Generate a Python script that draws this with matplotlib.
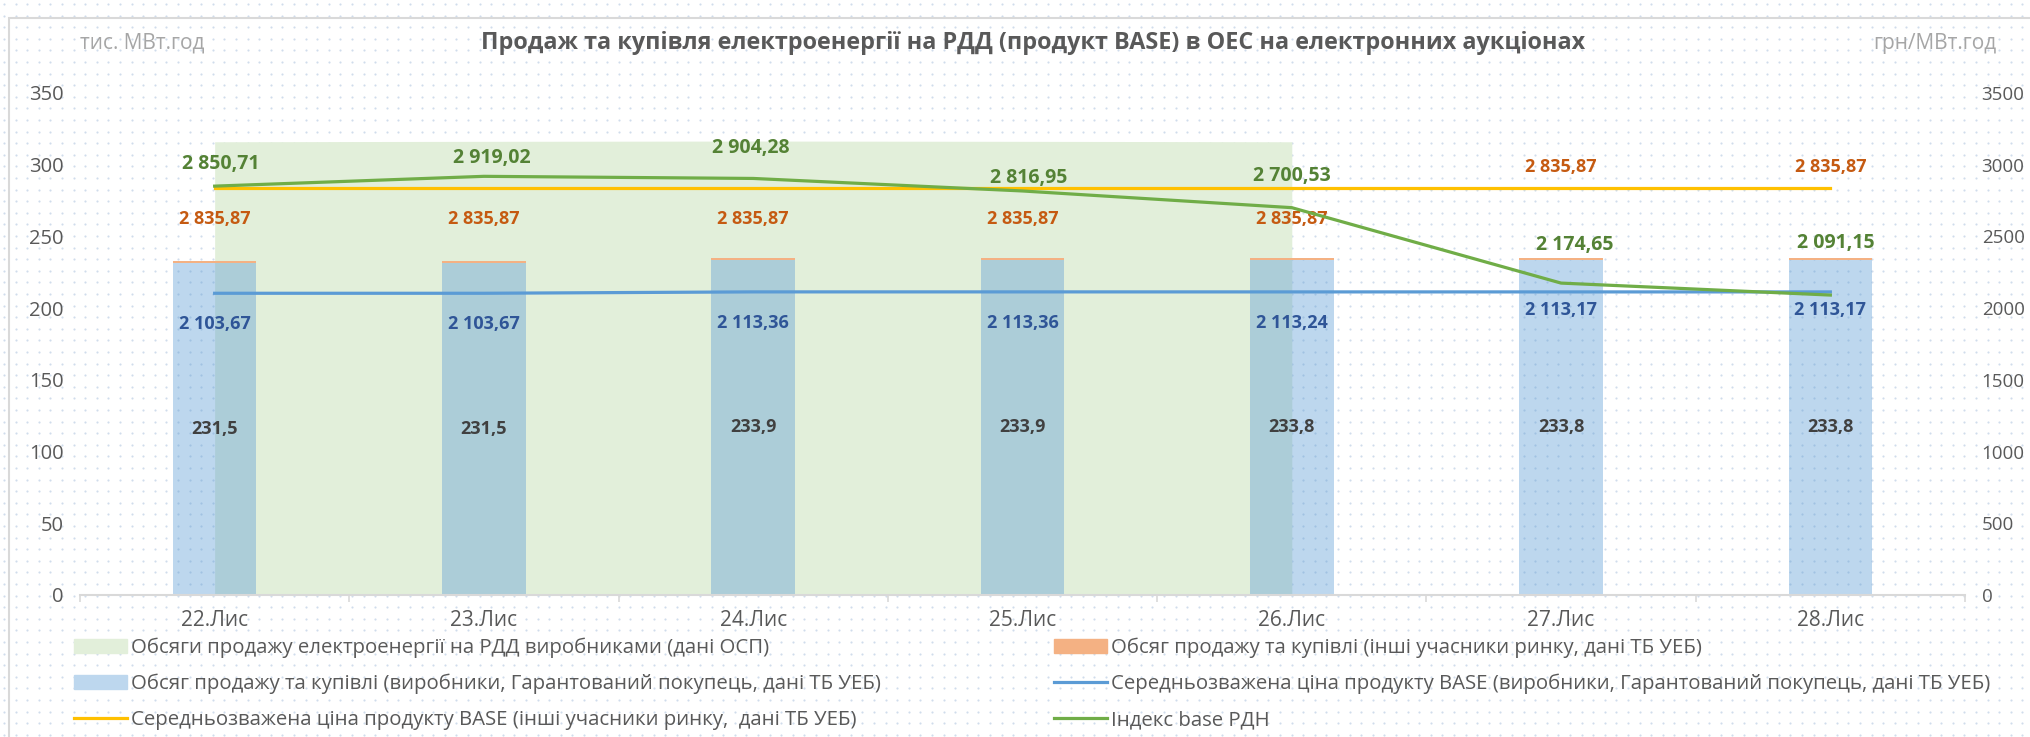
import numpy as np
import matplotlib
matplotlib.use('Agg')
import matplotlib.pyplot as plt
from matplotlib.patches import Patch, Rectangle
from matplotlib.lines import Line2D

W, H = 2031, 737
DPI = 100

days = ['22.Лис', '23.Лис', '24.Лис', '25.Лис', '26.Лис', '27.Лис', '28.Лис']

# тис. МВт.год (left axis)
osp_volume = [316.0, 316.3, 316.5, 316.3, 316.0, np.nan, np.nan]
producers_volume = [231.5, 231.5, 233.9, 233.9, 233.8, 233.8, 233.8]
others_volume = [1.4, 1.4, 1.4, 1.4, 1.4, 1.4, 1.4]

# грн/МВт.год (right axis)
producers_price = [2103.67, 2103.67, 2113.36, 2113.36, 2113.24, 2113.17, 2113.17]
others_price = [2835.87, 2835.87, 2835.87, 2835.87, 2835.87, 2835.87, 2835.87]
rdn_index = [2850.71, 2919.02, 2904.28, 2816.95, 2700.53, 2174.65, 2091.15]

# label offsets in pixels (layout only)
rdn_off = [(6, 22), (8, 18), (-2, 30), (6, 13), (0, 32), (14, 38), (5, 52)]
others_off = [(0, -31)] * 5 + [(0, 21)] * 2
prod_off = [(0, -31)] * 5 + [(0, -18)] * 2

GRAY = '#595959'
FONT = ['Open Sans', 'DejaVu Sans']
plt.rcParams['font.family'] = FONT


def fmt(v):
    return f'{v:,.2f}'.replace(',', ' ').replace('.', ',')


fig = plt.figure(figsize=(W / DPI, H / DPI), dpi=DPI, facecolor='white')

# dotted background of the chart area
bg = fig.add_axes([0, 0, 1, 1], zorder=-5)
bg.set_xlim(0, W)
bg.set_ylim(H, 0)
bg.axis('off')
gx, gy = np.meshgrid(np.arange(4, W, 11.6), np.arange(4, H, 11.6))
bg.scatter(gx.ravel(), gy.ravel(), s=2.4, color='#d0dcec', linewidths=0)

fig.add_artist(Rectangle((9 / W, -0.1), 1.2, 1.1 - 18 / H, transform=fig.transFigure,
                         fill=False, edgecolor='#d9d9d9', linewidth=1.5))

ax = fig.add_axes([80 / W, 1 - 595 / H, (1965 - 80) / W, (595 - 93) / H])
ax.patch.set_alpha(0)
x = np.arange(len(days))

osp = np.array(osp_volume, dtype=float)
mask = np.isfinite(osp)
ax.fill_between(x[mask], 0, osp[mask], color='#e2efda', linewidth=0, zorder=1)

bw = 0.31
ax.bar(x, producers_volume, bw, color='#5b9bd5', alpha=0.4, linewidth=0, zorder=2)
ax.bar(x, others_volume, bw, bottom=producers_volume, color='#f4b183', linewidth=0, zorder=2)

for xi, v in zip(x, producers_volume):
    ax.text(xi, v / 2, f'{v:.1f}'.replace('.', ','), ha='center', va='center',
            fontsize=13, fontweight='bold', color='#404040', zorder=6)

ax.set_xlim(-0.5, len(days) - 0.5)
ax.set_ylim(0, 350)
ax.set_yticks(np.arange(0, 351, 50))
ax.set_xticks(x)
ax.set_xticklabels(days)
ax.set_xticks(np.arange(-0.5, len(days), 1), minor=True)
ax.tick_params(axis='x', which='major', length=0, pad=11, labelsize=15, labelcolor=GRAY)
ax.tick_params(axis='x', which='minor', length=5, width=1.2, color='#d9d9d9')
ax.tick_params(axis='y', length=0, pad=12, labelsize=14.5, labelcolor=GRAY)
for s in ['top', 'right', 'left']:
    ax.spines[s].set_visible(False)
ax.spines['bottom'].set_color('#d9d9d9')
ax.spines['bottom'].set_linewidth(1.5)

ax2 = ax.twinx()
ax2.set_ylim(0, 3500)
ax2.set_yticks(np.arange(0, 3501, 500))
ax2.tick_params(axis='y', length=0, pad=12, labelsize=13.5, labelcolor=GRAY)
for s in ax2.spines.values():
    s.set_visible(False)

ax2.plot(x, producers_price, color='#5b9bd5', lw=2.3, zorder=3)
ax2.plot(x, others_price, color='#ffc000', lw=2.3, zorder=3)
ax2.plot(x, rdn_index, color='#70ad47', lw=2.3, zorder=4)

for xi, v, off in zip(x, rdn_index, rdn_off):
    ax2.annotate(fmt(v), (xi, v), xytext=off, textcoords='offset pixels',
                 ha='center', va='center', fontsize=14, fontweight='bold', color='#548235')
for xi, v, off in zip(x, others_price, others_off):
    ax2.annotate(fmt(v), (xi, v), xytext=off, textcoords='offset pixels',
                 ha='center', va='center', fontsize=13, fontweight='bold', color='#c55a11')
for xi, v, off in zip(x, producers_price, prod_off):
    ax2.annotate(fmt(v), (xi, v), xytext=off, textcoords='offset pixels',
                 ha='center', va='center', fontsize=13, fontweight='bold', color='#2f5597')

fig.text(1033 / W, 1 - 43 / H,
         'Продаж та купівля електроенергії на РДД (продукт BASE) в ОЕС на електронних аукціонах',
         ha='center', va='center', fontsize=16.8, fontweight='bold', color=GRAY)
fig.text(80 / W, 1 - 43 / H, 'тис. МВт.год', ha='left', va='center', fontsize=15, color='#a6a6a6')
fig.text(1996 / W, 1 - 43 / H, 'грн/МВт.год', ha='right', va='center', fontsize=15, color='#a6a6a6')

leg_kw = dict(loc='center left', frameon=False, fontsize=14.7, borderpad=0,
              handlelength=2.6, handletextpad=0.2, labelspacing=0.78, labelcolor=GRAY)
h1 = [Patch(color='#e2efda'), Patch(color='#bdd7ee'), Line2D([], [], color='#ffc000', lw=2.3)]
l1 = ['Обсяги продажу електроенергії на РДД виробниками (дані ОСП)',
      'Обсяг продажу та купівлі (виробники, Гарантований покупець, дані ТБ УЕБ)',
      'Середньозважена ціна продукту BASE (інші учасники ринку,  дані ТБ УЕБ)']
h2 = [Patch(color='#f4b183'), Line2D([], [], color='#5b9bd5', lw=2.3),
      Line2D([], [], color='#70ad47', lw=2.3)]
l2 = ['Обсяг продажу та купівлі (інші учасники ринку, дані ТБ УЕБ)',
      'Середньозважена ціна продукту BASE (виробники, Гарантований покупець, дані ТБ УЕБ)',
      'Індекс base РДН']
fig.legend(h1, l1, bbox_to_anchor=(64 / W, 1 - 684 / H), **leg_kw)
fig.legend(h2, l2, bbox_to_anchor=(1044 / W, 1 - 684 / H), **leg_kw)

fig.savefig('out.png', dpi=DPI)
